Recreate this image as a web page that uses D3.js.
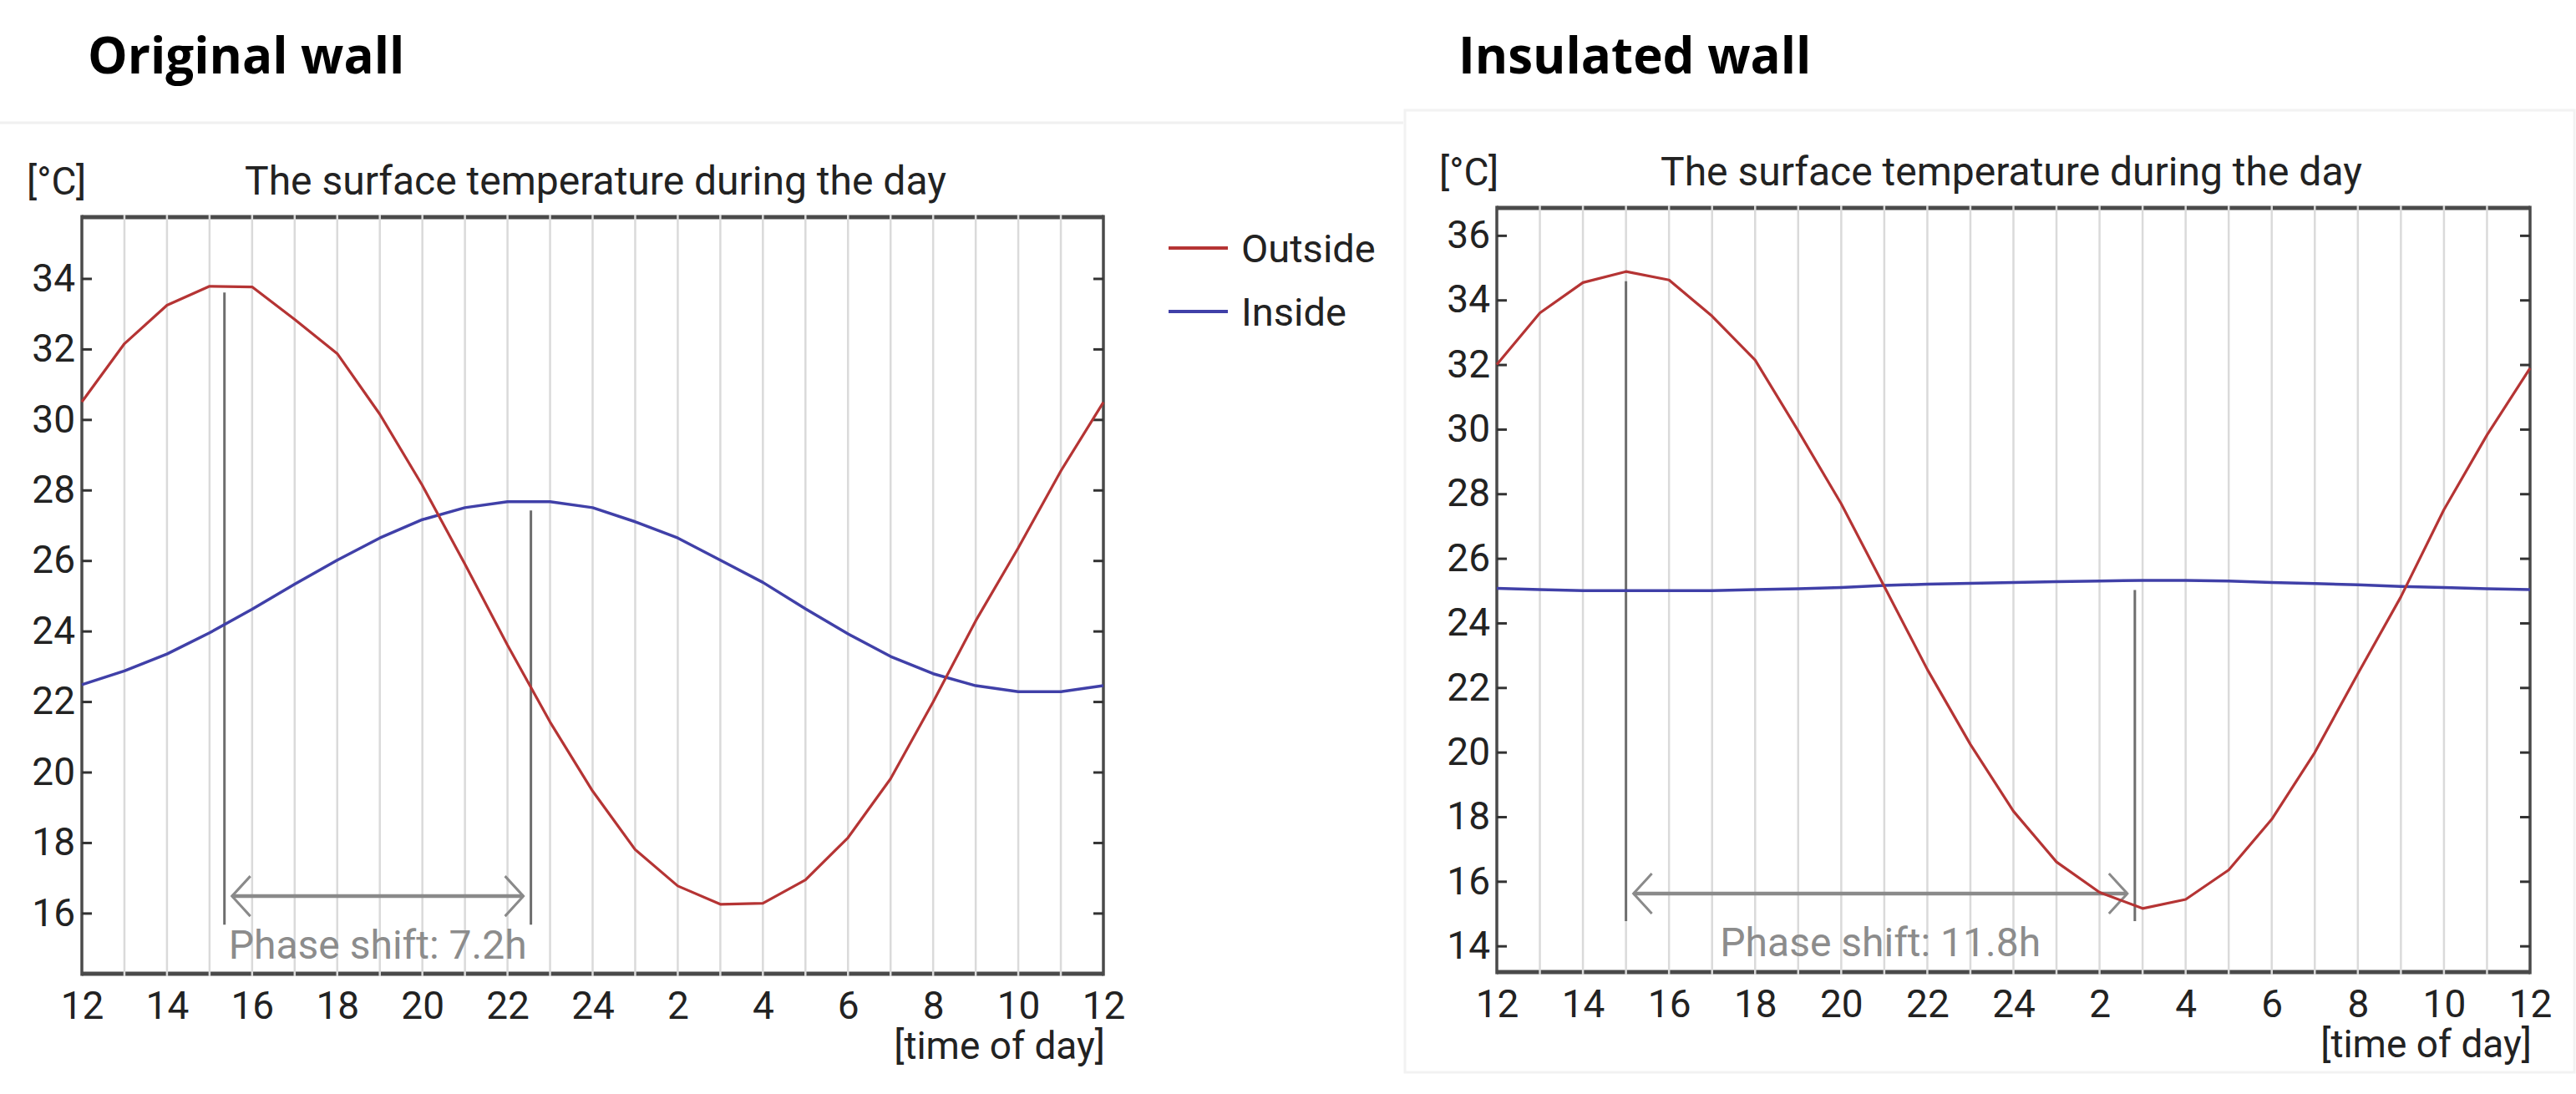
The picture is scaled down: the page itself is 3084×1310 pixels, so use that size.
<!doctype html>
<html lang="en">
<head>
<meta charset="utf-8">
<title>The surface temperature during the day</title>
<script src="https://cdn.jsdelivr.net/npm/d3@7"></script>
<style>
  body { margin: 0; background: #fff; }
  svg { display: block; }
  text { font-family: Roboto, "DejaVu Sans", sans-serif; fill: #222; }
  .panel-title { font-family: "Open Sans", sans-serif; font-weight: 700; font-size: 60px; fill: #000; }
</style>
</head>
<body>
<svg id="chart" width="3084" height="1310"></svg>
<script>
// hourly samples from 12 noon to 12 noon of the next day (25 = 1 am ... 36 = 12)
var hours = [12, 13, 14, 15, 16, 17, 18, 19, 20, 21, 22, 23, 24, 25, 26, 27, 28, 29, 30, 31, 32, 33, 34, 35, 36];

var originalOutside = [30.5, 32.15, 33.24, 33.78, 33.76, 32.84, 31.87, 30.15, 28.13, 25.9, 23.6, 21.42, 19.46,
                       17.8, 16.77, 16.25, 16.28, 16.94, 18.14, 19.81, 21.99, 24.29, 26.36, 28.54, 30.49];
var originalInside = [22.48, 22.87, 23.35, 23.95, 24.62, 25.33, 26.01, 26.64, 27.16, 27.5, 27.67, 27.67, 27.5,
                      27.1, 26.64, 26.01, 25.38, 24.63, 23.92, 23.28, 22.79, 22.45, 22.28, 22.28, 22.45];
var insulatedOutside = [32.0, 33.6, 34.54, 34.88, 34.62, 33.5, 32.14, 29.95, 27.69, 25.13, 22.56, 20.24, 18.17,
                        16.6, 15.66, 15.16, 15.44, 16.35, 17.92, 19.99, 22.43, 24.81, 27.51, 29.82, 31.89];
var insulatedInside = [25.07, 25.03, 25.0, 25.0, 25.0, 25.0, 25.03, 25.06, 25.1, 25.16, 25.2, 25.23, 25.25,
                       25.28, 25.3, 25.32, 25.32, 25.3, 25.25, 25.22, 25.18, 25.13, 25.1, 25.06, 25.03];

var seriesNames = ["Outside", "Inside"];
var panelTitles = ["Original wall", "Insulated wall"];

var timeTickHours = [12, 14, 16, 18, 20, 22, 24, 26, 28, 30, 32, 34, 36];
var timeTickLabels = ["12", "14", "16", "18", "20", "22", "24", "2", "4", "6", "8", "10", "12"];
var originalTempTicks = [16, 18, 20, 22, 24, 26, 28, 30, 32, 34];
var insulatedTempTicks = [14, 16, 18, 20, 22, 24, 26, 28, 30, 32, 34, 36];

// phase shift marks: hour of outside peak, hour of inside peak, top of each marker line, bottom, arrow level
var phaseLabels = ["Phase shift: 7.2h", "Phase shift: 11.8h"];
var phaseFrom = [15.35, 15.0];
var phaseTo = [22.55, 26.82];
var phaseTopFrom = [33.6, 34.58];
var phaseTopTo = [27.42, 25.02];
var phaseBottom = [15.67, 14.77];
var phaseArrow = [16.48, 15.62];

var red = "#b53434", blue = "#4040a8";
var svg = d3.select("#chart");

// faint frames of the two screenshots
svg.append("line").attr("x1", 0).attr("x2", 1680).attr("y1", 147).attr("y2", 147)
  .style("stroke", "#f0f0f0").style("stroke-width", 3);
svg.append("rect").attr("x", 1682).attr("y", 132).attr("width", 1400).attr("height", 1152)
  .style("fill", "none").style("stroke", "#f2f2f2").style("stroke-width", 3);

var panels = [
  {title: panelTitles[0], titleX: 105, left: 98, right: 1321, top: 260, bottom: 1166, domain: [14.28, 35.74],
   ticks: originalTempTicks, outside: originalOutside, inside: originalInside, unitX: 32, headY: 233, headX: 293,
   legend: true, idx: 0},
  {title: panelTitles[1], titleX: 1746, left: 1792, right: 3029, top: 249, bottom: 1164, domain: [13.19, 36.85],
   ticks: insulatedTempTicks, outside: insulatedOutside, inside: insulatedInside, unitX: 1723, headY: 222, headX: 1988,
   legend: false, idx: 1}
];

panels.forEach(drawPanel);

function drawPanel(p) {
  var x = d3.scaleLinear().domain([hours[0], hours[hours.length - 1]]).range([p.left, p.right]);
  var y = d3.scaleLinear().domain(p.domain).range([p.bottom, p.top]);
  var g = svg.append("g");

  g.append("text").attr("class", "panel-title").attr("x", p.titleX).attr("y", 88).text(p.title);

  g.append("text").attr("x", p.unitX).attr("y", p.headY).style("font-size", "46px").text("[°C]");
  g.append("text").attr("x", p.headX).attr("y", p.headY).style("font-size", "48px")
    .text("The surface temperature during the day");

  // frame: heavy top and bottom, lighter sides
  g.append("line").attr("x1", p.left).attr("x2", p.right).attr("y1", p.top).attr("y2", p.top)
    .style("stroke", "#4a4a4a").style("stroke-width", 5);
  g.append("line").attr("x1", p.left).attr("x2", p.right).attr("y1", p.bottom).attr("y2", p.bottom)
    .style("stroke", "#4a4a4a").style("stroke-width", 5);
  [p.left, p.right].forEach(function (xx) {
    g.append("line").attr("x1", xx).attr("x2", xx).attr("y1", p.top - 2.5).attr("y2", p.bottom + 2.5)
      .style("stroke", "#4a4a4a").style("stroke-width", 3.5);
  });

  // hour gridlines, cutting through the frame
  g.selectAll(".grid").data(hours.slice(1, hours.length - 1)).enter().append("line")
    .attr("x1", function (d) { return x(d); }).attr("x2", function (d) { return x(d); })
    .attr("y1", p.top - 3).attr("y2", p.bottom + 3)
    .style("stroke", "#dadada").style("stroke-width", 2.5);

  // axes
  var yLeft = g.append("g").attr("transform", "translate(" + p.left + ",0)")
    .call(d3.axisLeft(y).tickValues(p.ticks).tickSize(-12).tickPadding(8));
  var yRight = g.append("g").attr("transform", "translate(" + p.right + ",0)")
    .call(d3.axisRight(y).tickValues(p.ticks).tickSize(-12).tickFormat(""));
  var xBottom = g.append("g").attr("transform", "translate(0," + p.bottom + ")")
    .call(d3.axisBottom(x).tickValues(timeTickHours).tickSize(0).tickPadding(21)
      .tickFormat(function (d, i) { return timeTickLabels[i]; }));
  [yLeft, yRight, xBottom].forEach(function (a) {
    a.select(".domain").remove();
    a.selectAll(".tick line").style("stroke", "#333").style("stroke-width", 3);
    a.selectAll("text").style("font-size", "46px").style("font-family", "Roboto, sans-serif").style("fill", "#222");
  });

  g.append("text").attr("x", p.right + 2).attr("y", p.bottom + 102).attr("text-anchor", "end")
    .style("font-size", "46px").text("[time of day]");

  // phase shift marks
  var i = p.idx;
  g.append("line").attr("x1", x(phaseFrom[i])).attr("x2", x(phaseFrom[i]))
    .attr("y1", y(phaseTopFrom[i])).attr("y2", y(phaseBottom[i]))
    .style("stroke", "#6e6e6e").style("stroke-width", 3);
  g.append("line").attr("x1", x(phaseTo[i])).attr("x2", x(phaseTo[i]))
    .attr("y1", y(phaseTopTo[i])).attr("y2", y(phaseBottom[i]))
    .style("stroke", "#6e6e6e").style("stroke-width", 3);

  var ax0 = x(phaseFrom[i]) + 9, ax1 = x(phaseTo[i]) - 9, ay = y(phaseArrow[i]);
  g.append("line").attr("x1", ax0).attr("x2", ax1).attr("y1", ay).attr("y2", ay)
    .style("stroke", "#8a8a8a").style("stroke-width", 4.5);
  g.append("path")
    .attr("d", "M" + (ax0 + 22) + "," + (ay - 24) + "L" + ax0 + "," + ay + "L" + (ax0 + 22) + "," + (ay + 24) +
               "M" + (ax1 - 22) + "," + (ay - 24) + "L" + ax1 + "," + ay + "L" + (ax1 - 22) + "," + (ay + 24))
    .style("fill", "none").style("stroke", "#8a8a8a").style("stroke-width", 3);
  g.append("text").attr("x", (ax0 + ax1) / 2).attr("y", ay + 75).attr("text-anchor", "middle")
    .style("font-size", "48px").style("fill", "#8c8c8c").text(phaseLabels[i]);

  // temperature curves
  var line = d3.line()
    .x(function (d, k) { return x(hours[k]); })
    .y(function (d) { return y(d); });
  g.append("path").datum(p.inside).attr("d", line)
    .style("fill", "none").style("stroke", blue).style("stroke-width", 3.5).style("stroke-linejoin", "round");
  g.append("path").datum(p.outside).attr("d", line)
    .style("fill", "none").style("stroke", red).style("stroke-width", 3.2).style("stroke-linejoin", "round");

  if (p.legend) {
    var legendY = [297, 373];
    [red, blue].forEach(function (c, k) {
      g.append("line").attr("x1", 1399).attr("x2", 1470).attr("y1", legendY[k]).attr("y2", legendY[k])
        .style("stroke", c).style("stroke-width", 4);
      g.append("text").attr("x", 1486).attr("y", legendY[k]).attr("dy", "0.36em")
        .style("font-size", "47px").text(seriesNames[k]);
    });
  }
}
</script>
</body>
</html>
